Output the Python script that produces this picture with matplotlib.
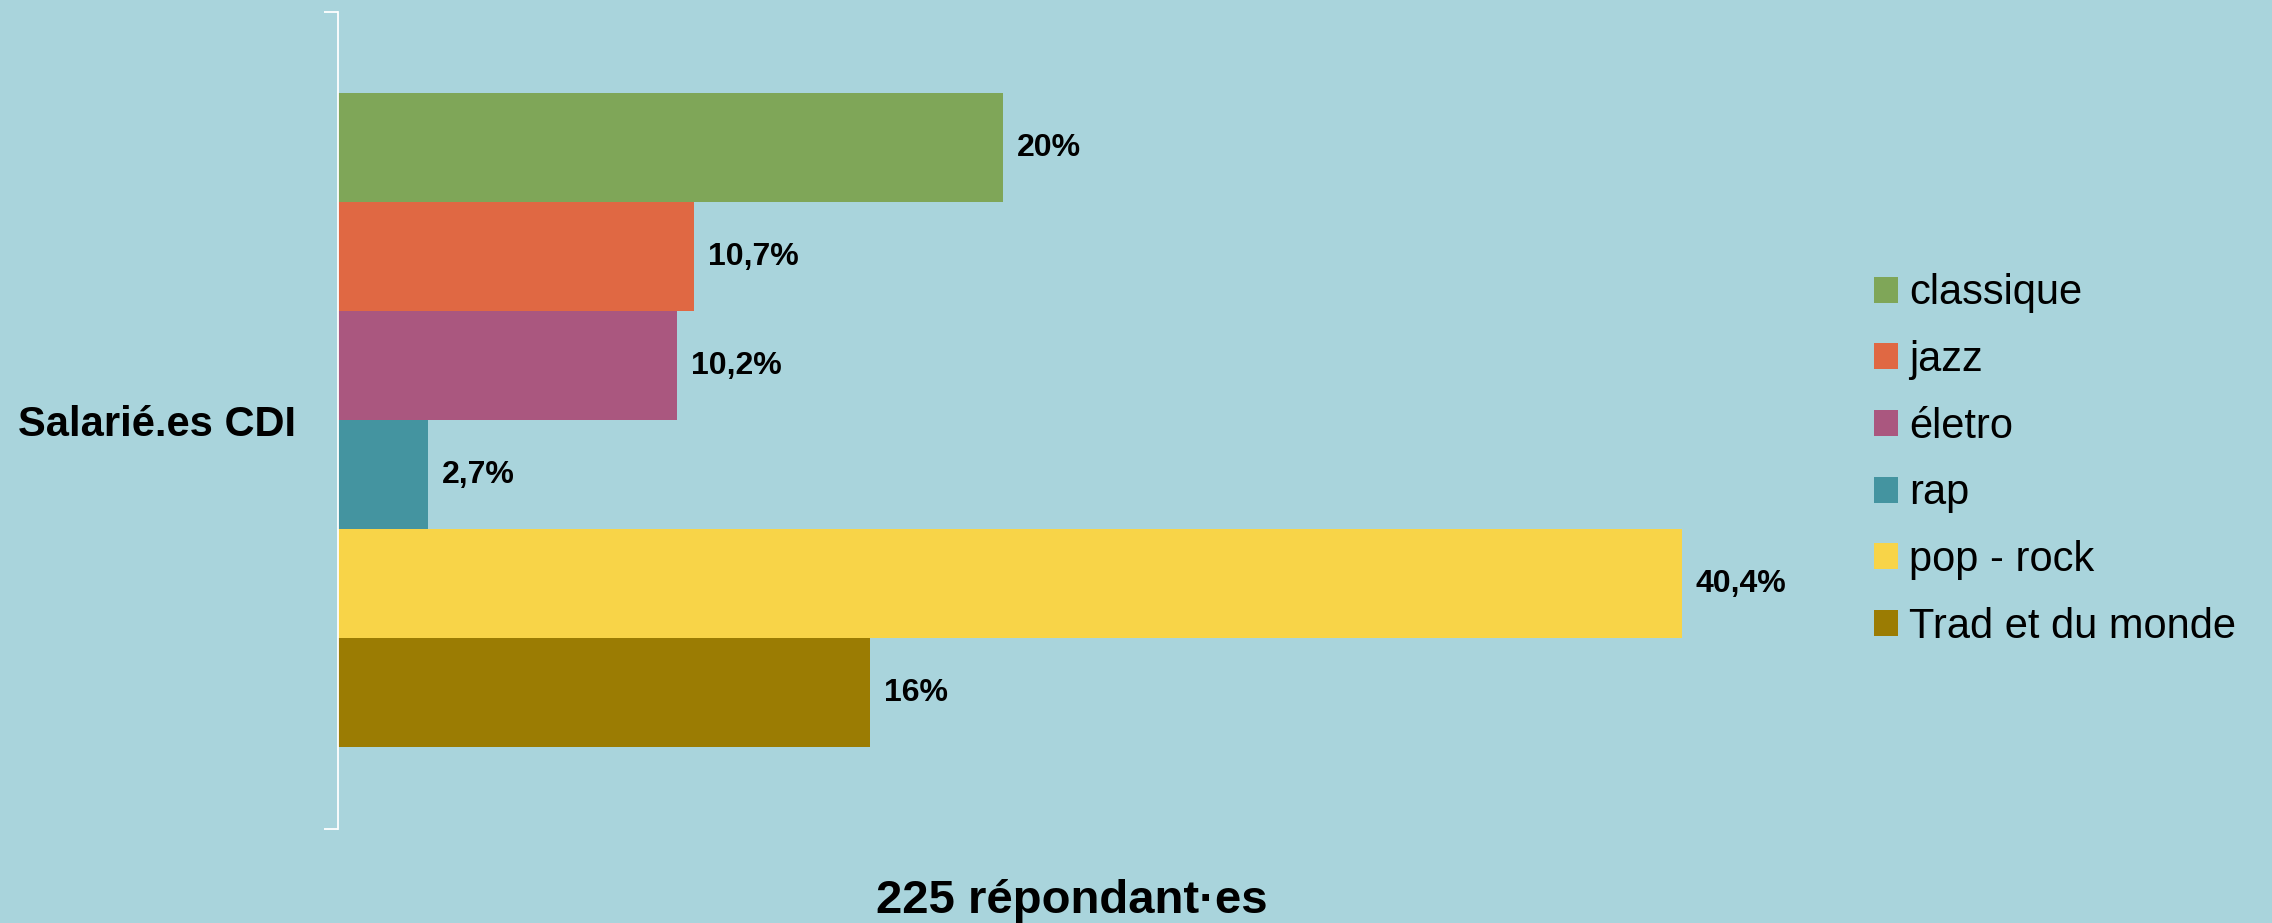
import numpy as np
import matplotlib
matplotlib.use("Agg")
import matplotlib.pyplot as plt

plt.rcParams['font.family'] = ['Liberation Sans', 'DejaVu Sans']

category = "Salarié.es CDI"
genres = ["classique", "jazz", "életro", "rap", "pop - rock", "Trad et du monde"]
values = [20, 10.7, 10.2, 2.7, 40.4, 16]
value_labels = ["20%", "10,7%", "10,2%", "2,7%", "40,4%", "16%"]
colors = ["#7FA658", "#E06843", "#AA577F", "#4494A0", "#F8D448", "#9B7C03"]
title = "225 répondant·es"
bg = "#A9D4DC"

fig = plt.figure(figsize=(22.72, 9.23), dpi=100, facecolor=bg)
ax = fig.add_axes([338 / 2272, 1 - 829 / 923, (1850 - 338) / 2272, (829 - 11.6) / 923])
ax.set_facecolor(bg)

# one category, six grouped bars
n = len(genres)
h = 0.8 / n
for i in range(n):
    pos = 0.4 - (i + 0.5) * h
    bars = ax.barh(pos, values[i], height=h, color=colors[i], label=genres[i])
    ax.bar_label(bars, labels=[value_labels[i]], padding=10,
                 fontsize=23, fontweight='bold')

ax.set_ylim(-0.5, 0.5)
ax.set_xlim(0, 45.45)

for s in ['top', 'right', 'bottom']:
    ax.spines[s].set_visible(False)
ax.spines['left'].set_color('white')
ax.spines['left'].set_linewidth(1.3)

ax.set_xticks([])
ax.set_yticks([0])
ax.set_yticklabels([category], fontsize=30, fontweight='bold')
ax.tick_params(axis='y', which='major', length=0, pad=30)
ax.set_yticks([-0.5, 0.5], minor=True)
ax.tick_params(axis='y', which='minor', length=10, width=1.3, color='white')

ax.legend(loc='center left', bbox_to_anchor=(1874 / 2272, 1 - 460 / 923),
          bbox_transform=fig.transFigure, frameon=False, fontsize=30,
          handlelength=0.58, handleheight=0.58, handletextpad=0.26,
          labelspacing=0.64, borderpad=0, borderaxespad=0)

fig.text(1072 / 2272, 1 - 913 / 923, title, ha='center', va='baseline',
         fontsize=34, fontweight='bold')

fig.savefig('out.png', dpi=100, facecolor=bg)
